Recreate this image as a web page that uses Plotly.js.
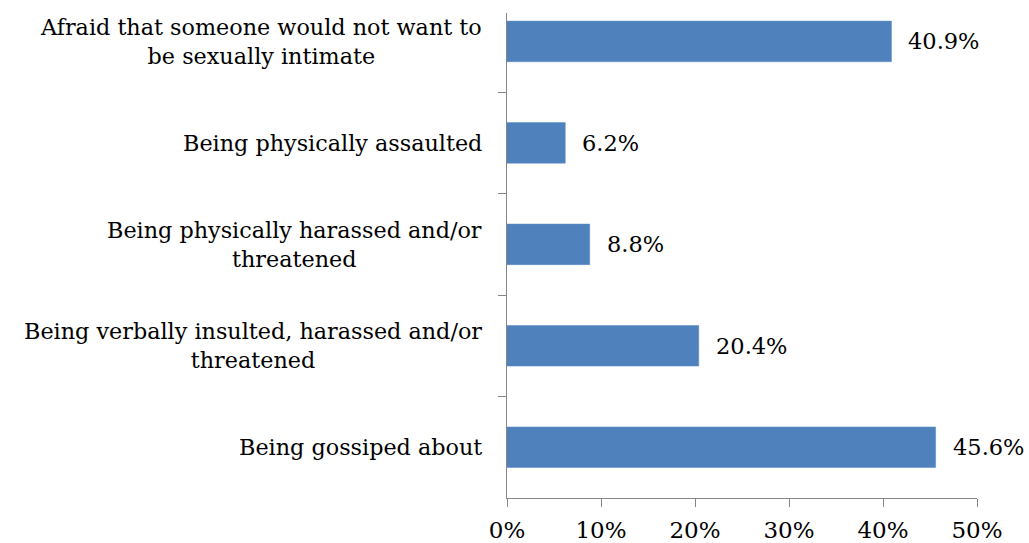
<!DOCTYPE html>
<html>
<head>
<meta charset="utf-8">
<script src="https://cdn.plot.ly/plotly-3.0.1.min.js"></script>
<style>html,body{margin:0;padding:0;background:#fff;}#chart{width:1029px;height:543px;}</style>
</head>
<body>
<div id="chart"></div>
<script>
const categories = [
  "Afraid that someone would not want to<br>be sexually intimate",
  "Being physically assaulted",
  "Being physically harassed and/or<br>threatened",
  "Being verbally insulted, harassed and/or<br>threatened",
  "Being gossiped about"
];
const values = [40.9, 6.2, 8.8, 20.4, 45.6];
const valueLabels = ["40.9%", "6.2%", "8.8%", "20.4%", "45.6%"];
const xTicks = [0, 10, 20, 30, 40, 50];
const xTickLabels = ["0%", "10%", "20%", "30%", "40%", "50%"];

const FONT = "DejaVu Serif";
const ids = categories.map((c, i) => "c" + i);

const trace = {
  type: "bar",
  orientation: "h",
  x: values,
  y: ids,
  marker: {color: "#4F81BD", line: {color: "#5B8BC6", width: 0.5}},
  hoverinfo: "none"
};

const annotations = [];
categories.forEach((c, i) => {
  annotations.push({
    xref: "paper", yref: "y", x: 0, y: ids[i],
    xanchor: "right", yanchor: "middle", xshift: -23,
    text: c, align: "center", showarrow: false,
    font: {family: FONT, size: 22.3, color: "#000"}
  });
  annotations.push({
    xref: "x", yref: "y", x: values[i], y: ids[i],
    xanchor: "left", yanchor: "middle", xshift: 15,
    text: valueLabels[i], showarrow: false,
    font: {family: FONT, size: 22.5, color: "#000"}
  });
});

const layout = {
  width: 1029, height: 543,
  margin: {l: 507, r: 52, t: 13, b: 45},
  paper_bgcolor: "#fff", plot_bgcolor: "#fff",
  showlegend: false,
  bargap: 0.6,
  xaxis: {
    range: [0, 50], tickvals: xTicks, ticktext: xTickLabels,
    showgrid: false, zeroline: false,
    showline: true, linecolor: "#868686", linewidth: 1,
    ticks: "outside", ticklen: 8, tickcolor: "#868686",
    ticklabelstandoff: 3,
    tickfont: {family: FONT, size: 23, color: "#000"}
  },
  yaxis: {
    type: "category", categoryorder: "array", categoryarray: ids,
    range: [4.5, -0.28],
    showticklabels: false, showgrid: false, zeroline: false,
    showline: true, linecolor: "#868686", linewidth: 1,
    ticks: "outside", ticklen: 8, tickcolor: "#868686", tickson: "boundaries"
  },
  annotations: annotations
};

Plotly.newPlot("chart", [trace], layout, {staticPlot: true, displayModeBar: false});
</script>
</body>
</html>
